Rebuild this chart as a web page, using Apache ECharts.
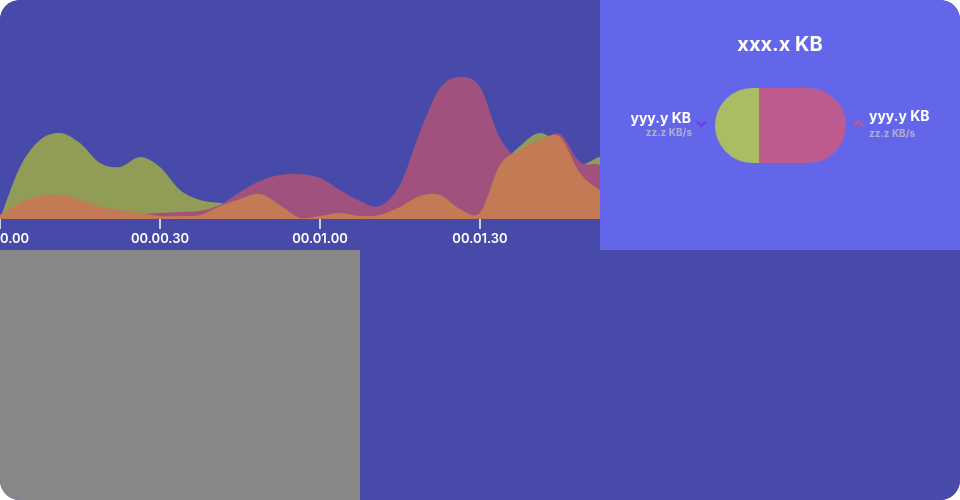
<!DOCTYPE html>
<html>
<head>
<meta charset="utf-8">
<script src="https://cdn.jsdelivr.net/npm/echarts@6/dist/echarts.min.js"></script>
<style>
  html, body { margin: 0; padding: 0; background: #ffffff; }
  #wrap { width: 960px; height: 500px; border-radius: 20px; overflow: hidden; background: #474aa8; }
  #chart { width: 960px; height: 500px; }
</style>
</head>
<body>
<div id="wrap"><div id="chart"></div></div>
<script>
// sample times in seconds
const times = [0, 3.75, 7.5, 11.25, 15, 18.75, 22.5, 26.25, 30, 33.75, 37.5, 41.25, 45, 48.75,
  52.5, 56.25, 60, 63.75, 67.5, 71.25, 75, 78.75, 82.5, 86.25, 90, 93.75, 97.5, 101.25, 105,
  108.75, 112.5, 116.25, 120, 135, 180];
// throughput values (KB/s)
const greenValues = [0, 26, 39.5, 43, 38, 28, 26, 31, 26, 14.5, 9.5, 8, 7, 5.5, 4, 2.5, 1.5,
  1.5, 2, 3, 4.5, 7, 9.5, 14.5, 19.5, 27, 36.5, 43, 37, 27.5, 31, 30.5, 27, 14.5, 9.5];
const magentaValues = [0.5, 0.5, 1, 1, 1.5, 1.5, 2, 2.5, 3, 3.5, 4, 7, 13.5, 19, 22, 22.5, 20.5,
  14.5, 9, 6.5, 17, 43.5, 65.5, 71, 66, 40.5, 30.5, 38.5, 42.5, 28.5, 27, 19.5, 12, 7, 4.5];
const orangeValues = [2, 8, 11.5, 12, 9.5, 6, 4.5, 3, 1.5, 1.5, 2, 6.5, 10, 12.5, 7, 0.5, 1.5,
  3, 1.5, 2, 6, 11.5, 12, 5, 3, 27, 34.5, 39.5, 41, 23, 14.5, 10, 8.5, 4.5, 3.5];
const tickSeconds = 30;
const xMax = 180;

const titleText = 'xxx.x KB';
const leftMain = 'yyy.y KB';
const leftSub = 'zz.z KB/s';
const rightMain = 'yyy.y KB';
const rightSub = 'zz.z KB/s';

function fmt(s) {
  const m = Math.floor(s / 60), sec = Math.round(s % 60);
  const p = n => (n < 10 ? '0' : '') + n;
  return '00.' + p(m) + '.' + p(sec);
}

// Smooth filled area drawn as a custom series; every point goes through the axis scales (api.coord)
function areaSeries(name, values, color) {
  const data = times.map((t, i) => [t, values[i]]);
  return {
    name, type: 'custom', coordinateSystem: 'cartesian2d', data, silent: true, clip: true,
    encode: { x: 0, y: 1 },
    renderItem: function (params, api) {
      if (params.dataIndex !== 0) return null;
      const pts = data.map(d => api.coord(d));
      const base = api.coord([0, 0])[1];
      const n = pts.length;
      let d = 'M' + pts[0][0] + ',' + base + ' L' + pts[0][0] + ',' + pts[0][1];
      for (let i = 0; i < n - 1; i++) {
        const p0 = pts[Math.max(0, i - 1)], p1 = pts[i], p2 = pts[i + 1], p3 = pts[Math.min(n - 1, i + 2)];
        const h = p2[0] - p1[0];
        const m1 = (p2[1] - p0[1]) / Math.max(1e-6, p2[0] - p0[0]);
        const m2 = (p3[1] - p1[1]) / Math.max(1e-6, p3[0] - p1[0]);
        let c1y = p1[1] + m1 * h / 3, c2y = p2[1] - m2 * h / 3;
        c1y = Math.min(c1y, base); c2y = Math.min(c2y, base);
        d += ' C' + (p1[0] + h / 3) + ',' + c1y + ' ' + (p2[0] - h / 3) + ',' + c2y + ' ' + p2[0] + ',' + p2[1];
      }
      d += ' L' + pts[n - 1][0] + ',' + base + ' Z';
      return { type: 'path', shape: { pathData: d }, style: { fill: color } };
    }
  };
}

const chart = echarts.init(document.getElementById('chart'), null, { renderer: 'canvas' });
const FONT = 'Inter, "Noto Sans", sans-serif';
chart.setOption({
  animation: false,
  backgroundColor: '#474aa8',
  grid: { left: 0, right: 0, top: 19, bottom: 281, containLabel: false, outerBoundsMode: 'none' },
  xAxis: {
    type: 'value', min: 0, max: xMax, interval: tickSeconds,
    axisLine: { show: false },
    axisTick: { show: true, length: 10, lineStyle: { color: '#ffffff', width: 1.5 } },
    splitLine: { show: false },
    axisLabel: {
      color: '#ffffff', fontFamily: FONT, fontSize: 13, fontWeight: 600, margin: 14,
      showMinLabel: true, showMaxLabel: true, hideOverlap: false,
      formatter: v => fmt(v)
    }
  },
  yAxis: { type: 'value', min: 0, max: 100, show: false },
  series: [
    areaSeries('a', greenValues, '#919d57'),
    areaSeries('b', magentaValues, '#a0517e'),
    areaSeries('c', orangeValues, '#c37a55')
  ],
  graphic: [
    { type: 'rect', z: 100, shape: { x: 600, y: 0, width: 360, height: 250 }, style: { fill: '#6466ea' } },
    { type: 'rect', z: 100, shape: { x: 0, y: 250, width: 360, height: 250 }, style: { fill: '#878787' } },
    { type: 'rect', z: 101, shape: { x: 715, y: 88, width: 44, height: 75, r: [37.5, 0, 0, 37.5] }, style: { fill: '#abbd62' } },
    { type: 'rect', z: 101, shape: { x: 759, y: 88, width: 87, height: 75, r: [0, 37.5, 37.5, 0] }, style: { fill: '#bd5b8f' } },
    { type: 'text', z: 101, style: { text: titleText, x: 780, y: 45, textAlign: 'center', textVerticalAlign: 'middle', fill: '#ffffff', fontFamily: FONT, fontSize: 20, fontWeight: 700 } },
    { type: 'text', z: 101, style: { text: leftMain, x: 691, y: 119, textAlign: 'right', textVerticalAlign: 'middle', fill: '#ffffff', fontFamily: FONT, fontSize: 14, fontWeight: 700 } },
    { type: 'text', z: 101, style: { text: leftSub, x: 692, y: 133, textAlign: 'right', textVerticalAlign: 'middle', fill: '#b0b0cc', fontFamily: FONT, fontSize: 10, fontWeight: 700 } },
    { type: 'text', z: 101, style: { text: rightMain, x: 869, y: 117, textAlign: 'left', textVerticalAlign: 'middle', fill: '#ffffff', fontFamily: FONT, fontSize: 14, fontWeight: 700 } },
    { type: 'text', z: 101, style: { text: rightSub, x: 869, y: 134, textAlign: 'left', textVerticalAlign: 'middle', fill: '#b0b0cc', fontFamily: FONT, fontSize: 10, fontWeight: 700 } },
    { type: 'polyline', z: 102, shape: { points: [[697, 121.5], [701.5, 126], [706, 121.5]] }, style: { stroke: '#6a3cf2', lineWidth: 2.2, fill: null } },
    { type: 'polyline', z: 102, shape: { points: [[854, 126], [858.5, 121.5], [863, 126]] }, style: { stroke: '#c05a8f', lineWidth: 2, fill: null } }
  ]
});
</script>
</body>
</html>
